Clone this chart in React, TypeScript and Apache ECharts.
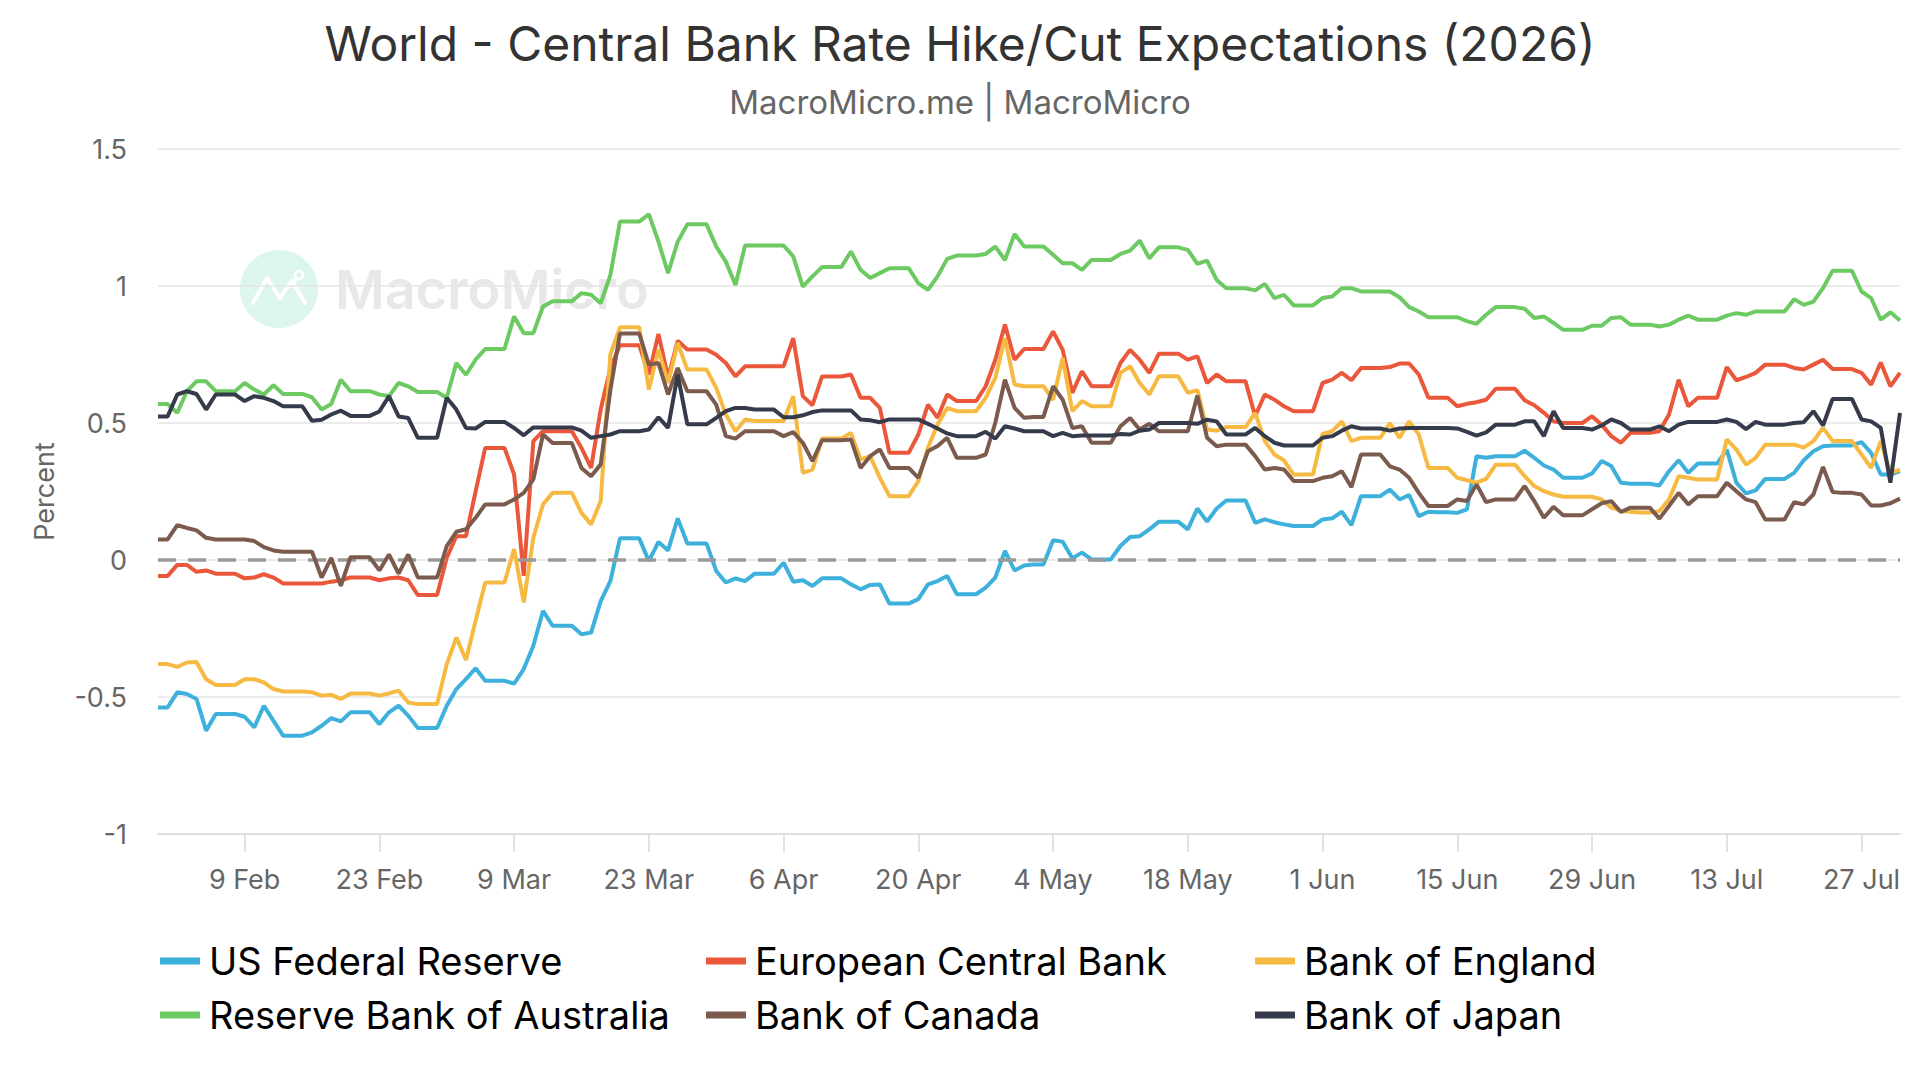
import React, { useEffect, useRef } from "react";
import * as echarts from "echarts";

const FONT = "Inter, 'Liberation Sans', Arial, sans-serif";

const seriesNames = [
  "US Federal Reserve",
  "European Central Bank",
  "Bank of England",
  "Reserve Bank of Australia",
  "Bank of Canada",
  "Bank of Japan",
];
const seriesColors = ["#3db0dc", "#eb573b", "#f6ba43", "#6dca63", "#7c5b4f", "#363b4c"];

const tickLabels = ["9 Feb", "23 Feb", "9 Mar", "23 Mar", "6 Apr", "20 Apr", "4 May", "18 May", "1 Jun", "15 Jun", "29 Jun", "13 Jul", "27 Jul"];
const MONTHS = ["Jan", "Feb", "Mar", "Apr", "May", "Jun", "Jul", "Aug", "Sep", "Oct", "Nov", "Dec"];

// daily values from 31 Jan to 31 Jul
const fed = [
  -0.538, -0.538, -0.483, -0.489, -0.507, -0.623, -0.562, -0.562, -0.562, -0.572,
  -0.611, -0.532, -0.587, -0.641, -0.641, -0.641, -0.629, -0.605, -0.577, -0.589,
  -0.556, -0.556, -0.556, -0.599, -0.556, -0.532, -0.568, -0.613, -0.613, -0.613,
  -0.532, -0.471, -0.435, -0.395, -0.441, -0.441, -0.441, -0.451, -0.398, -0.313,
  -0.186, -0.24, -0.24, -0.24, -0.271, -0.265, -0.15, -0.077, 0.079, 0.079,
  0.079, -0.004, 0.066, 0.035, 0.152, 0.06, 0.06, 0.06, -0.04, -0.082,
  -0.067, -0.077, -0.05, -0.05, -0.05, -0.01, -0.079, -0.074, -0.095, -0.067,
  -0.067, -0.067, -0.089, -0.107, -0.091, -0.089, -0.159, -0.159, -0.159, -0.143,
  -0.089, -0.077, -0.058, -0.125, -0.125, -0.125, -0.101, -0.064, 0.033, -0.038,
  -0.02, -0.016, -0.016, 0.072, 0.067, 0.006, 0.027, 0.002, 0.002, 0.002,
  0.051, 0.084, 0.087, 0.112, 0.14, 0.14, 0.14, 0.112, 0.188, 0.14,
  0.188, 0.217, 0.217, 0.217, 0.136, 0.148, 0.138, 0.13, 0.124, 0.124,
  0.124, 0.148, 0.152, 0.176, 0.127, 0.233, 0.233, 0.233, 0.257, 0.221,
  0.237, 0.16, 0.176, 0.174, 0.174, 0.172, 0.185, 0.379, 0.373, 0.379,
  0.379, 0.379, 0.399, 0.373, 0.345, 0.33, 0.3, 0.3, 0.3, 0.316,
  0.361, 0.343, 0.282, 0.278, 0.278, 0.278, 0.272, 0.324, 0.364, 0.318,
  0.352, 0.352, 0.352, 0.403, 0.282, 0.243, 0.254, 0.296, 0.296, 0.296,
  0.318, 0.364, 0.397, 0.415, 0.418, 0.418, 0.418, 0.43, 0.391, 0.312,
  0.312, 0.324,
];

const ecb = [
  -0.058, -0.058, -0.018, -0.018, -0.043, -0.038, -0.05, -0.05, -0.05, -0.067,
  -0.064, -0.052, -0.064, -0.086, -0.086, -0.086, -0.086, -0.086, -0.079, -0.074,
  -0.064, -0.064, -0.064, -0.074, -0.067, -0.064, -0.074, -0.128, -0.128, -0.128,
  0.008, 0.087, 0.087, 0.25, 0.409, 0.409, 0.409, 0.312, -0.058, 0.434,
  0.47, 0.47, 0.47, 0.47, 0.409, 0.336, 0.55, 0.7, 0.784, 0.784,
  0.784, 0.677, 0.825, 0.665, 0.8, 0.768, 0.768, 0.768, 0.749, 0.719,
  0.67, 0.707, 0.707, 0.707, 0.707, 0.707, 0.81, 0.598, 0.565, 0.67,
  0.67, 0.67, 0.677, 0.592, 0.592, 0.555, 0.391, 0.391, 0.391, 0.458,
  0.567, 0.519, 0.604, 0.58, 0.58, 0.58, 0.634, 0.731, 0.859, 0.731,
  0.77, 0.77, 0.77, 0.834, 0.767, 0.61, 0.689, 0.634, 0.634, 0.634,
  0.719, 0.767, 0.731, 0.683, 0.753, 0.753, 0.753, 0.731, 0.743, 0.646,
  0.677, 0.652, 0.652, 0.652, 0.525, 0.604, 0.585, 0.561, 0.543, 0.543,
  0.543, 0.646, 0.658, 0.683, 0.656, 0.701, 0.701, 0.701, 0.704, 0.717,
  0.717, 0.677, 0.592, 0.592, 0.592, 0.561, 0.57, 0.576, 0.585, 0.625,
  0.625, 0.625, 0.583, 0.565, 0.537, 0.506, 0.5, 0.5, 0.5, 0.525,
  0.494, 0.452, 0.428, 0.464, 0.464, 0.464, 0.47, 0.531, 0.658, 0.561,
  0.592, 0.592, 0.592, 0.704, 0.656, 0.668, 0.683, 0.713, 0.713, 0.713,
  0.701, 0.695, 0.713, 0.731, 0.697, 0.697, 0.697, 0.683, 0.64, 0.721,
  0.634, 0.683,
];

const boe = [
  -0.38, -0.38, -0.39, -0.374, -0.372, -0.435, -0.456, -0.456, -0.456, -0.435,
  -0.435, -0.447, -0.471, -0.48, -0.48, -0.48, -0.483, -0.495, -0.492, -0.507,
  -0.487, -0.487, -0.487, -0.495, -0.487, -0.477, -0.52, -0.526, -0.526, -0.526,
  -0.38, -0.283, -0.365, -0.222, -0.082, -0.082, -0.082, 0.04, -0.155, 0.081,
  0.203, 0.245, 0.245, 0.245, 0.172, 0.13, 0.215, 0.75, 0.849, 0.849,
  0.849, 0.622, 0.768, 0.646, 0.792, 0.695, 0.695, 0.695, 0.628, 0.531,
  0.47, 0.513, 0.507, 0.507, 0.507, 0.507, 0.598, 0.318, 0.33, 0.443,
  0.443, 0.443, 0.464, 0.367, 0.379, 0.3, 0.233, 0.233, 0.233, 0.288,
  0.41, 0.495, 0.555, 0.543, 0.543, 0.543, 0.592, 0.665, 0.81, 0.64,
  0.634, 0.634, 0.634, 0.585, 0.737, 0.543, 0.58, 0.561, 0.561, 0.561,
  0.683, 0.707, 0.646, 0.604, 0.671, 0.671, 0.671, 0.61, 0.62, 0.476,
  0.472, 0.485, 0.485, 0.485, 0.537, 0.434, 0.385, 0.363, 0.312, 0.312,
  0.312, 0.46, 0.47, 0.506, 0.434, 0.446, 0.446, 0.446, 0.5, 0.446,
  0.506, 0.458, 0.336, 0.336, 0.336, 0.3, 0.291, 0.282, 0.296, 0.348,
  0.348, 0.348, 0.306, 0.27, 0.251, 0.239, 0.231, 0.231, 0.231, 0.231,
  0.221, 0.191, 0.179, 0.176, 0.173, 0.173, 0.179, 0.221, 0.306, 0.3,
  0.294, 0.294, 0.294, 0.44, 0.403, 0.348, 0.373, 0.421, 0.421, 0.421,
  0.421, 0.41, 0.434, 0.482, 0.434, 0.434, 0.434, 0.385, 0.336, 0.434,
  0.318, 0.33,
];

const rba = [
  0.569, 0.569, 0.537, 0.616, 0.652, 0.652, 0.616, 0.616, 0.616, 0.646,
  0.622, 0.604, 0.638, 0.606, 0.606, 0.606, 0.594, 0.549, 0.569, 0.658,
  0.616, 0.616, 0.616, 0.604, 0.598, 0.646, 0.634, 0.613, 0.613, 0.613,
  0.592, 0.719, 0.676, 0.731, 0.77, 0.77, 0.77, 0.889, 0.828, 0.828,
  0.925, 0.944, 0.944, 0.944, 0.974, 0.968, 0.937, 1.04, 1.235, 1.235,
  1.235, 1.262, 1.162, 1.047, 1.162, 1.225, 1.225, 1.225, 1.144, 1.089,
  1.004, 1.148, 1.148, 1.148, 1.148, 1.148, 1.108, 0.998, 1.035, 1.069,
  1.069, 1.069, 1.126, 1.059, 1.029, 1.047, 1.065, 1.065, 1.065, 1.01,
  0.986, 1.035, 1.099, 1.111, 1.111, 1.111, 1.117, 1.144, 1.095, 1.19,
  1.144, 1.144, 1.144, 1.114, 1.083, 1.083, 1.059, 1.095, 1.095, 1.095,
  1.117, 1.129, 1.166, 1.101, 1.141, 1.141, 1.141, 1.132, 1.081, 1.093,
  1.022, 0.992, 0.992, 0.992, 0.984, 1.008, 0.956, 0.968, 0.929, 0.929,
  0.929, 0.956, 0.962, 0.992, 0.992, 0.98, 0.98, 0.98, 0.98, 0.959,
  0.923, 0.907, 0.886, 0.886, 0.886, 0.886, 0.872, 0.862, 0.895, 0.923,
  0.923, 0.923, 0.917, 0.883, 0.889, 0.865, 0.84, 0.84, 0.84, 0.855,
  0.855, 0.883, 0.886, 0.859, 0.859, 0.859, 0.852, 0.859, 0.877, 0.892,
  0.877, 0.877, 0.877, 0.892, 0.901, 0.895, 0.907, 0.907, 0.907, 0.907,
  0.952, 0.931, 0.943, 0.992, 1.056, 1.056, 1.056, 0.98, 0.956, 0.877,
  0.904, 0.874,
];

const boc = [
  0.075, 0.075, 0.127, 0.117, 0.108, 0.081, 0.075, 0.075, 0.075, 0.075,
  0.069, 0.047, 0.035, 0.03, 0.03, 0.03, 0.03, -0.064, 0.008, -0.094,
  0.01, 0.01, 0.01, -0.038, 0.02, -0.05, 0.02, -0.064, -0.064, -0.064,
  0.051, 0.103, 0.112, 0.154, 0.203, 0.203, 0.203, 0.221, 0.245, 0.294,
  0.458, 0.427, 0.427, 0.427, 0.336, 0.306, 0.349, 0.62, 0.827, 0.827,
  0.827, 0.713, 0.719, 0.604, 0.701, 0.616, 0.616, 0.616, 0.567, 0.452,
  0.443, 0.47, 0.47, 0.47, 0.47, 0.452, 0.467, 0.428, 0.361, 0.437,
  0.437, 0.437, 0.44, 0.336, 0.379, 0.404, 0.336, 0.336, 0.336, 0.3,
  0.397, 0.416, 0.446, 0.373, 0.373, 0.373, 0.385, 0.501, 0.658, 0.555,
  0.519, 0.522, 0.522, 0.634, 0.585, 0.482, 0.488, 0.428, 0.428, 0.428,
  0.488, 0.518, 0.476, 0.497, 0.47, 0.47, 0.47, 0.47, 0.6, 0.446,
  0.415, 0.421, 0.421, 0.421, 0.379, 0.33, 0.336, 0.33, 0.288, 0.288,
  0.288, 0.3, 0.306, 0.324, 0.266, 0.385, 0.385, 0.385, 0.342, 0.33,
  0.3, 0.245, 0.197, 0.197, 0.197, 0.221, 0.215, 0.276, 0.211, 0.221,
  0.221, 0.221, 0.27, 0.215, 0.154, 0.194, 0.163, 0.163, 0.163, 0.185,
  0.207, 0.215, 0.175, 0.191, 0.191, 0.191, 0.151, 0.197, 0.245, 0.203,
  0.233, 0.233, 0.233, 0.282, 0.251, 0.221, 0.211, 0.148, 0.148, 0.148,
  0.211, 0.203, 0.239, 0.34, 0.248, 0.245, 0.245, 0.239, 0.199, 0.199,
  0.207, 0.224,
];

const boj = [
  0.524, 0.524, 0.604, 0.616, 0.606, 0.549, 0.604, 0.604, 0.604, 0.58,
  0.598, 0.592, 0.58, 0.561, 0.561, 0.561, 0.508, 0.512, 0.531, 0.545,
  0.526, 0.526, 0.526, 0.542, 0.598, 0.524, 0.518, 0.446, 0.446, 0.446,
  0.592, 0.549, 0.482, 0.48, 0.504, 0.504, 0.504, 0.482, 0.455, 0.484,
  0.484, 0.484, 0.484, 0.484, 0.472, 0.446, 0.452, 0.458, 0.47, 0.47,
  0.47, 0.476, 0.521, 0.482, 0.677, 0.495, 0.495, 0.495, 0.519, 0.543,
  0.555, 0.555, 0.549, 0.549, 0.549, 0.521, 0.521, 0.528, 0.54, 0.546,
  0.546, 0.546, 0.546, 0.513, 0.51, 0.503, 0.513, 0.513, 0.513, 0.513,
  0.497, 0.48, 0.462, 0.452, 0.452, 0.452, 0.468, 0.443, 0.488, 0.48,
  0.47, 0.47, 0.47, 0.452, 0.464, 0.452, 0.454, 0.454, 0.454, 0.454,
  0.46, 0.458, 0.472, 0.476, 0.5, 0.5, 0.5, 0.5, 0.497, 0.512,
  0.506, 0.458, 0.458, 0.458, 0.482, 0.452, 0.428, 0.418, 0.418, 0.418,
  0.418, 0.446, 0.452, 0.472, 0.488, 0.48, 0.48, 0.48, 0.472, 0.48,
  0.482, 0.482, 0.482, 0.482, 0.482, 0.48, 0.468, 0.454, 0.466, 0.494,
  0.494, 0.494, 0.506, 0.506, 0.452, 0.543, 0.482, 0.482, 0.482, 0.476,
  0.491, 0.513, 0.5, 0.476, 0.476, 0.476, 0.488, 0.47, 0.494, 0.504,
  0.504, 0.504, 0.504, 0.513, 0.504, 0.478, 0.504, 0.494, 0.494, 0.494,
  0.5, 0.503, 0.543, 0.491, 0.588, 0.588, 0.588, 0.513, 0.506, 0.482,
  0.282, 0.537,
];

const seriesValues = [fed, ecb, boe, rba, boc, boj];

const startDate = Date.UTC(2026, 0, 31);
const dates = fed.map((_, i) => {
  const d = new Date(startDate + i * 86400000);
  return `${d.getUTCDate()} ${MONTHS[d.getUTCMonth()]}`;
});

const legendPos = [
  { left: 160, top: 941 },
  { left: 706, top: 941 },
  { left: 1255, top: 941 },
  { left: 160, top: 995 },
  { left: 706, top: 995 },
  { left: 1255, top: 995 },
];

export default function App() {
  const ref = useRef<HTMLDivElement>(null);
  useEffect(() => {
    if (!ref.current) return;
    const chart = echarts.init(ref.current, null, { renderer: "svg" });
    const isTick = (_: number, v: string) => tickLabels.includes(v);
    chart.setOption({
      animation: false,
      backgroundColor: "#ffffff",
      textStyle: { fontFamily: FONT },
      title: {
        text: "World - Central Bank Rate Hike/Cut Expectations (2026)",
        subtext: "MacroMicro.me | MacroMicro",
        left: "center",
        top: 16,
        padding: 0,
        itemGap: 14,
        textStyle: { fontSize: 48, fontWeight: "normal", color: "#333333", fontFamily: FONT, lineHeight: 54 },
        subtextStyle: { fontSize: 33, color: "#666666", fontFamily: FONT, lineHeight: 36 },
      },
      graphic: [
        { type: "circle", shape: { cx: 279, cy: 289, r: 39 }, style: { fill: "#dcf5ee" } },
        {
          type: "polyline",
          shape: { points: [[253, 303], [267, 278], [280, 298], [292, 281], [305, 303]] },
          style: { stroke: "#ffffff", lineWidth: 4, fill: "none", lineJoin: "round", lineCap: "round" },
        },
        { type: "line", shape: { x1: 290, y1: 287, x2: 296, y2: 279 }, style: { stroke: "#ffffff", lineWidth: 3 } },
        { type: "circle", shape: { cx: 299, cy: 275, r: 4 }, style: { fill: "none", stroke: "#ffffff", lineWidth: 2.5 } },
        {
          type: "text",
          x: 335,
          y: 289,
          style: {
            text: "MacroMicro",
            fontSize: 54,
            fontWeight: 600,
            fontFamily: FONT,
            fill: "#e8e8e8",
            textVerticalAlign: "middle",
          },
        },
      ],
      legend: seriesNames.map((name, i) => ({
        data: [name],
        left: legendPos[i].left,
        top: legendPos[i].top,
        padding: 0,
        icon: "rect",
        itemWidth: 40,
        itemHeight: 7,
        selectedMode: false,
        textStyle: { fontSize: 38, color: "#000000", fontFamily: FONT, padding: [0, 0, 0, 4], lineHeight: 40 },
      })),
      grid: { left: 158, right: 20, top: 149, bottom: 246, containLabel: false },
      xAxis: {
        type: "category",
        data: dates,
        boundaryGap: false,
        axisLine: { onZero: false, lineStyle: { color: "#d8d8d8", width: 1.5 } },
        axisTick: { show: true, interval: isTick, length: 18, lineStyle: { color: "#d8d8d8", width: 1.5 } },
        axisLabel: { interval: isTick, color: "#666666", fontSize: 27, margin: 32, fontFamily: FONT },
        splitLine: { show: false },
      },
      yAxis: {
        type: "value",
        min: -1,
        max: 1.5,
        interval: 0.5,
        name: "Percent",
        nameLocation: "middle",
        nameRotate: 90,
        nameGap: 100,
        nameTextStyle: { fontSize: 27, color: "#666666", fontFamily: FONT },
        axisLine: { show: false },
        axisTick: { show: false },
        axisLabel: { color: "#666666", fontSize: 27, margin: 31, fontFamily: FONT },
        splitLine: { lineStyle: { color: "#e6e6e6", width: 1.5 } },
      },
      series: seriesNames.map((name, i) => ({
        name,
        type: "line",
        data: seriesValues[i],
        color: seriesColors[i],
        showSymbol: false,
        symbol: "none",
        lineStyle: { width: 4, color: seriesColors[i] },
        emphasis: { disabled: true },
        z: 2 + i,
        ...(i === 0
          ? {
              markLine: {
                silent: true,
                symbol: ["none", "none"],
                label: { show: false },
                lineStyle: { color: "#9a9a9a", type: [18, 12], width: 3.5 },
                data: [{ yAxis: 0 }],
              },
            }
          : {}),
      })),
    });
    return () => chart.dispose();
  }, []);
  return (
    <div
      ref={ref}
      style={{ position: "fixed", left: 0, top: 0, width: 1920, height: 1080, background: "#ffffff" }}
    />
  );
}
